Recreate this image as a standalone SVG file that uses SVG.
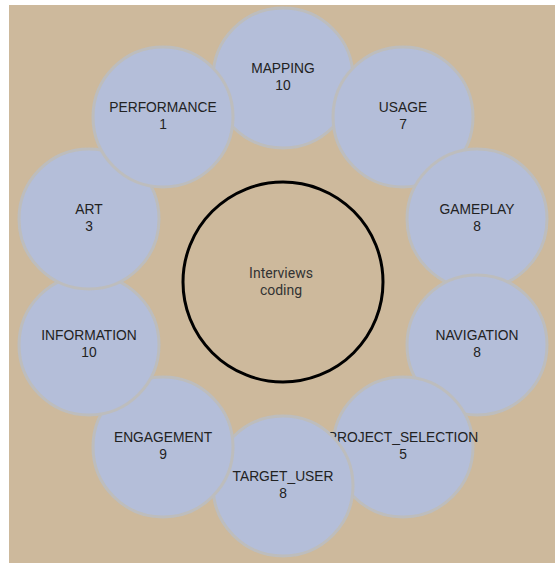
<svg xmlns="http://www.w3.org/2000/svg" width="555" height="563" viewBox="0 0 555 563">
<style>
.n circle{fill:#b4bed9;stroke:#bdbdbd;stroke-width:3}
.n text{font-family:"Liberation Sans",Arial,sans-serif;font-size:13.8px;fill:#222;text-anchor:middle}
.c text{font-family:Roboto,"Liberation Sans",sans-serif;font-size:14px;fill:#333;text-anchor:middle}
</style>
<rect x="0" y="0" width="555" height="563" fill="#ffffff"/>
<rect x="9" y="5" width="546" height="558" fill="#cdb99c"/>
<g id="connectors"></g>
<g id="center" class="c">
<circle cx="283" cy="282" r="100" fill="none" stroke="#000" stroke-width="3"/>
<text x="281" y="278">Interviews</text>
<text x="281" y="295">coding</text>
</g>
<g id="mapping" class="n"><circle cx="283" cy="78" r="70"/><text x="283" y="73">MAPPING</text><text x="283" y="89.5">10</text></g>
<g id="usage" class="n"><circle cx="403" cy="117" r="70"/><text x="403" y="112">USAGE</text><text x="403" y="128.5">7</text></g>
<g id="gameplay" class="n"><circle cx="477" cy="219" r="70"/><text x="477" y="214">GAMEPLAY</text><text x="477" y="230.5">8</text></g>
<g id="navigation" class="n"><circle cx="477" cy="345" r="70"/><text x="477" y="340">NAVIGATION</text><text x="477" y="356.5">8</text></g>
<g id="project_selection" class="n"><circle cx="403" cy="447" r="70"/><text x="403" y="442">PROJECT_SELECTION</text><text x="403" y="458.5">5</text></g>
<g id="target_user" class="n"><circle cx="283" cy="486" r="70"/><text x="283" y="481">TARGET_USER</text><text x="283" y="497.5">8</text></g>
<g id="engagement" class="n"><circle cx="163" cy="447" r="70"/><text x="163" y="442">ENGAGEMENT</text><text x="163" y="458.5">9</text></g>
<g id="information" class="n"><circle cx="89" cy="345" r="70"/><text x="89" y="340">INFORMATION</text><text x="89" y="356.5">10</text></g>
<g id="art" class="n"><circle cx="89" cy="219" r="70"/><text x="89" y="214">ART</text><text x="89" y="230.5">3</text></g>
<g id="performance" class="n"><circle cx="163" cy="117" r="70"/><text x="163" y="112">PERFORMANCE</text><text x="163" y="128.5">1</text></g>
</svg>
